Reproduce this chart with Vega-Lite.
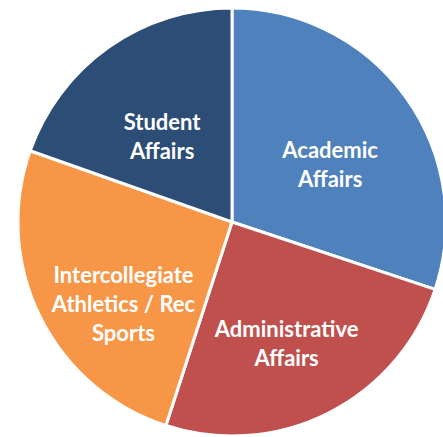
{
  "$schema": "https://vega.github.io/schema/vega-lite/v6.json",
  "width": 428,
  "height": 428,
  "padding": {"left": 18, "top": 8, "right": 0, "bottom": 0},
  "autosize": {"type": "none"},
  "background": "white",
  "view": {"stroke": null},
  "data": {
    "values": [
      {"category": "Academic Affairs", "label": "Academic\nAffairs", "value": 30.1, "order": 1},
      {"category": "Administrative Affairs", "label": "Administrative\nAffairs", "value": 24.9, "order": 2},
      {"category": "Intercollegiate Athletics / Rec Sports", "label": "Intercollegiate\nAthletics / Rec\nSports", "value": 25.4, "order": 3},
      {"category": "Student Affairs", "label": "Student\nAffairs", "value": 19.6, "order": 4}
    ]
  },
  "encoding": {
    "theta": {"field": "value", "type": "quantitative", "stack": true},
    "order": {"field": "order", "type": "quantitative"}
  },
  "layer": [
    {
      "mark": {"type": "arc", "stroke": "white", "strokeWidth": 3},
      "encoding": {
        "color": {
          "field": "category",
          "type": "nominal",
          "scale": {
            "domain": ["Academic Affairs", "Administrative Affairs", "Intercollegiate Athletics / Rec Sports", "Student Affairs"],
            "range": ["#4F81BD", "#C0504D", "#F79646", "#2C4D75"]
          },
          "legend": null
        }
      }
    },
    {
      "mark": {
        "type": "text",
        "radius": 121,
        "font": "Lato",
        "fontSize": 22,
        "fontWeight": "bold",
        "fill": "white",
        "lineBreak": "\n",
        "lineHeight": 29,
        "align": "center",
        "baseline": "middle"
      },
      "encoding": {
        "text": {"field": "label", "type": "nominal"}
      }
    }
  ]
}
